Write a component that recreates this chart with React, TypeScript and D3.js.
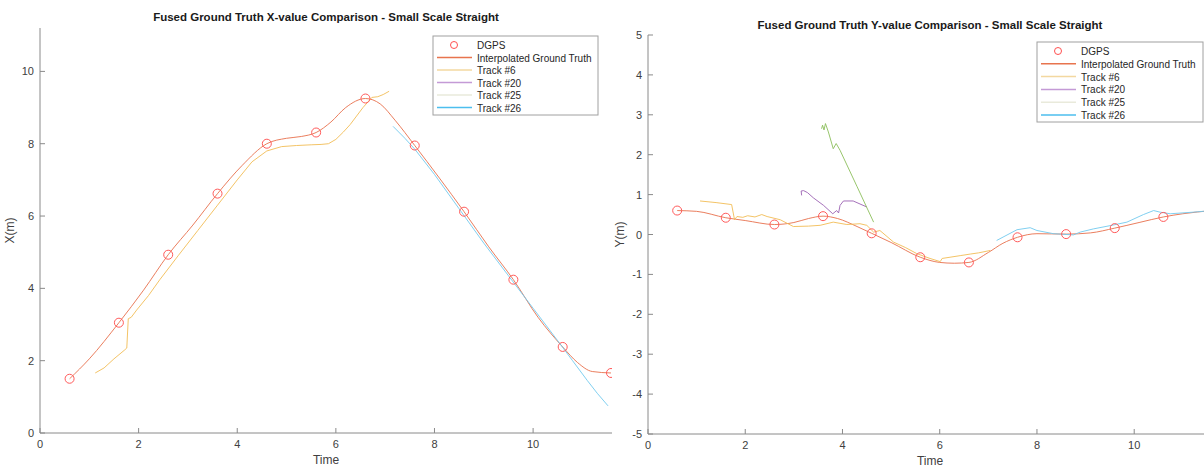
import React from "react";
import * as d3 from "d3";

// ---------- DATA ----------
const dgpsTime = [0.6, 1.6, 2.6, 3.6, 4.6, 5.6, 6.6, 7.6, 8.6, 9.6, 10.6, 11.58];
const dgpsX = [1.5, 3.05, 4.93, 6.62, 8.0, 8.31, 9.25, 7.95, 6.12, 4.24, 2.38, 1.66];
const dgpsY = [0.6, 0.42, 0.25, 0.46, 0.03, -0.57, -0.7, -0.07, 0.01, 0.16, 0.44, 0.6];

const gtXTime = [0.6, 1.0, 1.6, 2.1, 2.6, 3.1, 3.6, 4.1, 4.6, 5.0, 5.3, 5.6, 5.9, 6.2, 6.6, 6.9, 7.2, 7.6, 8.1, 8.6, 9.1, 9.6, 10.1, 10.6, 10.9, 11.2, 11.58];
const gtXVal = [1.5, 2.05, 3.05, 3.95, 4.93, 5.75, 6.62, 7.4, 8.0, 8.15, 8.2, 8.31, 8.6, 9.0, 9.25, 9.1, 8.65, 7.95, 7.05, 6.12, 5.15, 4.24, 3.2, 2.38, 1.95, 1.7, 1.66];

const gtYTime = [0.6, 1.0, 1.6, 2.0, 2.6, 3.0, 3.3, 3.6, 3.9, 4.3, 4.6, 5.0, 5.6, 6.0, 6.3, 6.6, 7.0, 7.3, 7.6, 8.0, 8.6, 9.1, 9.6, 10.1, 10.6, 11.0, 11.6];
const gtYVal = [0.6, 0.58, 0.42, 0.35, 0.25, 0.3, 0.4, 0.46, 0.4, 0.2, 0.03, -0.2, -0.57, -0.7, -0.72, -0.7, -0.45, -0.22, -0.07, 0.02, 0.01, 0.04, 0.16, 0.3, 0.44, 0.52, 0.6];

// Track #6, X
const t6XTime = [1.12, 1.3, 1.5, 1.72, 1.76, 1.79, 1.85, 1.96, 2.2, 2.43, 2.8, 3.2, 3.6, 4.0, 4.3, 4.6, 4.9, 5.2, 5.5, 5.7, 5.85, 6.0, 6.15, 6.29, 6.55, 6.73, 6.85, 6.96, 7.08];
const t6XVal = [1.66, 1.8, 2.05, 2.3, 2.35, 3.16, 3.2, 3.4, 3.8, 4.24, 4.9, 5.6, 6.3, 7.0, 7.5, 7.8, 7.92, 7.95, 7.97, 7.98, 8.0, 8.12, 8.32, 8.53, 9.0, 9.28, 9.3, 9.36, 9.45];
// Track #26, X
const t26XTime = [7.16, 7.4, 7.6, 8.0, 8.5, 9.0, 9.5, 10.0, 10.5, 10.8, 11.1, 11.3, 11.52];
const t26XVal = [8.48, 8.15, 7.85, 7.15, 6.2, 5.25, 4.35, 3.45, 2.55, 2.0, 1.45, 1.1, 0.75];

// Track #6, Y
const t6YTime = [1.07, 1.4, 1.72, 1.78, 1.83, 1.95, 2.05, 2.2, 2.34, 2.45, 2.72, 2.99, 3.3, 3.54, 3.81, 4.09, 4.36, 4.5, 4.64, 4.77, 5.05, 5.3, 5.53, 5.8, 6.01, 6.05, 6.42, 6.63, 6.8, 7.04];
const t6YVal = [0.84, 0.8, 0.75, 0.37, 0.45, 0.43, 0.47, 0.44, 0.5, 0.45, 0.37, 0.2, 0.21, 0.23, 0.31, 0.25, 0.27, 0.23, 0.06, 0.1, -0.19, -0.33, -0.48, -0.6, -0.68, -0.6, -0.53, -0.49, -0.46, -0.4];
// Track #20, Y
const t20YTime = [3.16, 3.15, 3.2, 3.28, 3.4, 3.61, 3.8, 3.88, 3.92, 3.95, 4.02, 4.22, 4.5];
const t20YVal = [0.98, 1.09, 1.1, 1.05, 0.92, 0.73, 0.52, 0.6, 0.54, 0.73, 0.84, 0.84, 0.69];
// Track #25, Y
const t25YTime = [3.57, 3.59, 3.62, 3.65, 3.71, 3.81, 3.87, 3.95, 4.3, 4.64];
const t25YVal = [2.65, 2.74, 2.62, 2.78, 2.57, 2.15, 2.28, 2.11, 1.2, 0.31];
// Track #26, Y
const t26YTime = [7.17, 7.59, 7.86, 8.0, 8.34, 8.75, 8.89, 9.16, 9.58, 9.85, 10.19, 10.4, 10.53, 10.74, 11.22, 11.6];
const t26YVal = [-0.15, 0.12, 0.17, 0.1, 0.02, -0.01, 0.06, 0.14, 0.24, 0.31, 0.5, 0.6, 0.56, 0.52, 0.56, 0.6];

const xTicks = [0, 2, 4, 6, 8, 10];
const yTicksX = [0, 2, 4, 6, 8, 10];
const yTicksY = [5, 4, 3, 2, 1, 0, -1, -2, -3, -4, -5];

const legendLabels = ["DGPS", "Interpolated Ground Truth", "Track #6", "Track #20", "Track #25", "Track #26"];
const legendColors = ["#ff5050", "#e8744e", "#f3d8a0", "#c49ad6", "#e9eadb", "#4dbeee"];

const C = {
  gt: "#e8704c",
  t6: "#f2bd55",
  t20: "#9b62b3",
  t25: "#8dbf5c",
  t26: "#72caee",
  dgps: "#ff5a5a",
  axis: "#8a8a8a",
  text: "#404040",
};

const FONT = "'Liberation Sans', Arial, Helvetica, sans-serif";

type Series = { t: number[]; v: number[]; color: string };

type PanelProps = {
  left: number;
  right: number;
  top: number;
  bottom: number;
  xMax: number;
  yDomain: [number, number];
  yTicks: number[];
  title: string;
  titleY: number;
  yLabel: string;
  yLabelX: number;
  dgpsV: number[];
  series: Series[];
  legend: { x: number; y: number; w: number; h: number; rowH: number };
};

function Panel(p: PanelProps) {
  const x = d3.scaleLinear().domain([0, p.xMax]).range([p.left, p.right]);
  const y = d3.scaleLinear().domain(p.yDomain).range([p.bottom, p.top]);
  const line = d3
    .line<[number, number]>()
    .x((d) => x(d[0]))
    .y((d) => y(d[1]))
    .curve(d3.curveMonotoneX);
  const lineRaw = d3
    .line<[number, number]>()
    .x((d) => x(d[0]))
    .y((d) => y(d[1]));
  const clipId = "clip" + p.left;
  const cx = (p.left + p.right) / 2;
  return (
    <g fontFamily={FONT}>
      <defs>
        <clipPath id={clipId}>
          <rect x={p.left} y={p.top} width={p.right - p.left} height={p.bottom - p.top} />
        </clipPath>
      </defs>
      <text x={cx} y={p.titleY} textAnchor="middle" fontWeight="bold" fontSize={11.5} fill="#1a1a1a">
        {p.title}
      </text>
      {/* axes */}
      <line x1={p.left} x2={p.right} y1={p.bottom} y2={p.bottom} stroke={C.axis} />
      <line x1={p.left} x2={p.left} y1={p.top} y2={p.bottom} stroke={C.axis} />
      {xTicks.map((t) => (
        <g key={"xt" + t}>
          <line x1={x(t)} x2={x(t)} y1={p.bottom} y2={p.bottom - 5} stroke={C.axis} />
          <text x={x(t)} y={p.bottom + 15} textAnchor="middle" fontSize={11} fill={C.text}>
            {t}
          </text>
        </g>
      ))}
      {p.yTicks.map((t) => (
        <g key={"yt" + t}>
          <line x1={p.left} x2={p.left + 5} y1={y(t)} y2={y(t)} stroke={C.axis} />
          <text x={p.left - 6} y={y(t) + 4} textAnchor="end" fontSize={11} fill={C.text}>
            {t}
          </text>
        </g>
      ))}
      <text x={cx} y={p.bottom + 31} textAnchor="middle" fontSize={12} fill={C.text}>
        Time
      </text>
      <text
        transform={`translate(${p.yLabelX},${(p.top + p.bottom) / 2}) rotate(-90)`}
        textAnchor="middle"
        fontSize={12}
        fill={C.text}
      >
        {p.yLabel}
      </text>
      <g clipPath={`url(#${clipId})`}>
        {p.series.map((s, i) => {
          const pts = s.t.map((t, j) => [t, s.v[j]] as [number, number]);
          const gen = i === 0 ? line : lineRaw;
          return <path key={i} d={gen(pts) || ""} fill="none" stroke={s.color} strokeWidth={1} strokeOpacity={0.9} />;
        })}
        {dgpsTime.map((t, i) => (
          <circle key={"c" + i} cx={x(t)} cy={y(p.dgpsV[i])} r={4.5} fill="none" stroke={C.dgps} strokeWidth={1} />
        ))}
      </g>
      {/* legend */}
      <g>
        <rect x={p.legend.x} y={p.legend.y} width={p.legend.w} height={p.legend.h} fill="white" stroke="#a0a0a0" />
        {legendLabels.map((lab, i) => {
          const ry = p.legend.y + 9 + i * p.legend.rowH;
          return (
            <g key={lab}>
              {i === 0 ? (
                <circle cx={p.legend.x + 21} cy={ry} r={3.5} fill="none" stroke={legendColors[0]} strokeWidth={1} />
              ) : (
                <line x1={p.legend.x + 4} x2={p.legend.x + 39} y1={ry} y2={ry} stroke={legendColors[i]} strokeWidth={1.5} />
              )}
              <text x={p.legend.x + 44} y={ry + 4} fontSize={10} fill="#262626">
                {lab}
              </text>
            </g>
          );
        })}
      </g>
    </g>
  );
}

export default function App() {
  return (
    <svg width={1204} height={468} style={{ position: "absolute", left: 0, top: 0, background: "white" }}>
      <rect width={1204} height={468} fill="white" />
      <Panel
        left={40}
        right={612}
        top={28}
        bottom={433}
        xMax={11.6}
        yDomain={[0, 11.2]}
        yTicks={yTicksX}
        title="Fused Ground Truth X-value Comparison - Small Scale Straight"
        titleY={21}
        yLabel="X(m)"
        yLabelX={14}
        dgpsV={dgpsX}
        series={[
          { t: gtXTime, v: gtXVal, color: C.gt },
          { t: t6XTime, v: t6XVal, color: C.t6 },
          { t: t26XTime, v: t26XVal, color: C.t26 },
        ]}
        legend={{ x: 433, y: 36, w: 165, h: 79, rowH: 12.5 }}
      />
      <Panel
        left={648}
        right={1212}
        top={35}
        bottom={434}
        xMax={11.6}
        yDomain={[-5, 5]}
        yTicks={yTicksY}
        title="Fused Ground Truth Y-value Comparison - Small Scale Straight"
        titleY={29}
        yLabel="Y(m)"
        yLabelX={624}
        dgpsV={dgpsY}
        series={[
          { t: gtYTime, v: gtYVal, color: C.gt },
          { t: t6YTime, v: t6YVal, color: C.t6 },
          { t: t20YTime, v: t20YVal, color: C.t20 },
          { t: t25YTime, v: t25YVal, color: C.t25 },
          { t: t26YTime, v: t26YVal, color: C.t26 },
        ]}
        legend={{ x: 1037, y: 42, w: 166, h: 80, rowH: 12.8 }}
      />
    </svg>
  );
}
